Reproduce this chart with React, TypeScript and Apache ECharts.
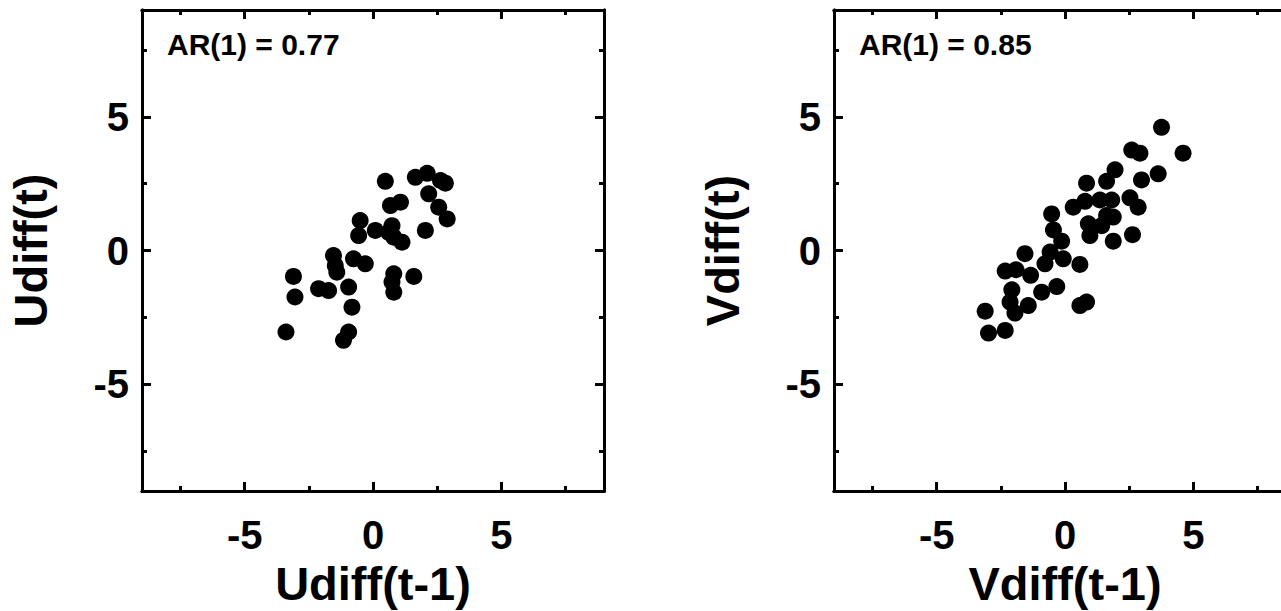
import React, { useEffect, useRef } from "react";
import * as echarts from "echarts";

// Left panel: Udiff(t-1) vs Udiff(t)
const uPrev = [0.48, 1.65, 2.11, 2.63, 2.82, 2.17, 2.56, 2.89, 2.04, 0.68, 1.07, -0.5, -0.56, 0.09, 0.74, 0.61, 0.81, 1.13, -1.54, -1.47, -1.41, -0.76, -0.3, -3.1, -3.04, -2.12, -1.73, -0.95, -0.82, -0.95, -1.15, -3.39, 0.81, 0.74, 0.81, 1.59];
const uCurr = [2.59, 2.74, 2.89, 2.62, 2.52, 2.12, 1.62, 1.18, 0.75, 1.68, 1.81, 1.12, 0.56, 0.75, 0.93, 0.68, 0.5, 0.31, -0.19, -0.56, -0.81, -0.31, -0.5, -0.97, -1.74, -1.43, -1.5, -1.37, -2.12, -3.05, -3.36, -3.05, -0.87, -1.18, -1.56, -0.97];

// Right panel: Vdiff(t-1) vs Vdiff(t)
const vPrev = [3.76, 4.6, 2.6, 2.92, 3.63, 2.98, 1.95, 1.62, 0.84, 2.53, 2.85, 1.82, 1.36, 0.78, 0.32, 1.88, 1.62, 0.91, 0.97, 1.43, 1.88, 2.63, -0.52, -0.45, -0.13, -0.58, -0.78, -0.07, 0.58, -1.56, -2.33, -1.91, -1.34, -2.07, -2.14, -1.43, -0.91, -0.32, -1.95, -3.11, -2.98, -2.33, 0.58, 0.84];
const vCurr = [4.61, 3.64, 3.76, 3.64, 2.87, 2.64, 3.02, 2.59, 2.52, 1.97, 1.62, 1.89, 1.89, 1.84, 1.62, 1.25, 1.31, 1.0, 0.56, 0.93, 0.35, 0.59, 1.37, 0.77, 0.35, -0.06, -0.5, -0.31, -0.52, -0.12, -0.77, -0.72, -0.93, -1.47, -1.93, -2.06, -1.56, -1.35, -2.34, -2.27, -3.09, -2.99, -2.06, -1.93];

const majorTicks = [-5, 0, 5];
const minorTicks = [-7.5, -2.5, 2.5, 7.5];
const axisMin = -9;
const axisMax = 9;

const panels = [
  { xName: "Udiff(t-1)", yName: "Udiff(t)", label: "AR(1) = 0.77", xs: uPrev, ys: uCurr, left: 142 },
  { xName: "Vdiff(t-1)", yName: "Vdiff(t)", label: "AR(1) = 0.85", xs: vPrev, ys: vCurr, left: 834 },
];

const FONT = "'Liberation Sans', Arial, Helvetica, sans-serif";
const BLACK = "#000";

function makeAxis(dim: "x" | "y", gridIndex: number, position: string, major: boolean, withLabels: boolean, name?: string) {
  const ax: any = {
    type: "value",
    gridIndex,
    position,
    min: axisMin,
    max: axisMax,
    splitLine: { show: false },
    axisLine: { show: true, onZero: false, lineStyle: { color: BLACK, width: 3 } },
    axisTick: {
      show: true,
      inside: true,
      length: major ? 9 : 5,
      customValues: major ? majorTicks : minorTicks,
      lineStyle: { color: BLACK, width: 3 },
    },
    axisLabel: withLabels
      ? {
          show: true,
          customValues: majorTicks,
          fontSize: 40,
          fontWeight: "bold",
          fontFamily: FONT,
          color: BLACK,
          margin: dim === "x" ? 24 : 13,
        }
      : { show: false },
  };
  if (name) {
    ax.name = name;
    ax.nameLocation = "middle";
    ax.nameGap = dim === "x" ? 66 : 88;
    ax.nameTextStyle = { fontSize: 47, fontWeight: "bold", fontFamily: FONT, color: BLACK };
  }
  return ax;
}

export default function App() {
  const ref = useRef<HTMLDivElement>(null);

  useEffect(() => {
    if (!ref.current) return;
    const chart = echarts.init(ref.current, undefined, { renderer: "svg" });

    const grids: any[] = [];
    const xAxes: any[] = [];
    const yAxes: any[] = [];
    const series: any[] = [];
    const graphics: any[] = [];

    panels.forEach((p, gi) => {
      grids.push({ left: p.left, top: 10, width: 462, height: 481, containLabel: false, outerBoundsMode: "none" });
      const xBase = xAxes.length;
      xAxes.push(makeAxis("x", gi, "bottom", true, true, p.xName));
      xAxes.push(makeAxis("x", gi, "bottom", false, false));
      xAxes.push(makeAxis("x", gi, "top", true, false));
      xAxes.push(makeAxis("x", gi, "top", false, false));
      const yBase = yAxes.length;
      yAxes.push(makeAxis("y", gi, "left", true, true, p.yName));
      yAxes.push(makeAxis("y", gi, "left", false, false));
      yAxes.push(makeAxis("y", gi, "right", true, false));
      yAxes.push(makeAxis("y", gi, "right", false, false));
      series.push({
        type: "scatter",
        xAxisIndex: xBase,
        yAxisIndex: yBase,
        symbol: "circle",
        symbolSize: 17,
        itemStyle: { color: BLACK, opacity: 1 },
        data: p.xs.map((x, i) => [x, p.ys[i]]),
      });
      graphics.push({
        type: "text",
        left: p.left + 25,
        top: 29,
        style: { text: p.label, fontSize: 30, fontWeight: "bold", fontFamily: FONT, fill: BLACK },
      });
    });

    chart.setOption({
      animation: false,
      backgroundColor: "#fff",
      grid: grids,
      xAxis: xAxes,
      yAxis: yAxes,
      series,
      graphic: graphics,
    });

    return () => chart.dispose();
  }, []);

  return (
    <div
      ref={ref}
      style={{ position: "absolute", left: 0, top: 0, width: 1281, height: 611, background: "#fff" }}
    />
  );
}
